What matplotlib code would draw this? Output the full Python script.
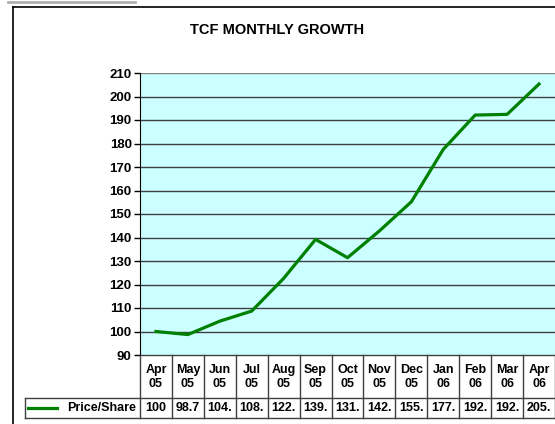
import matplotlib
matplotlib.use("Agg")
import matplotlib.pyplot as plt
from matplotlib.lines import Line2D
from matplotlib.transforms import blended_transform_factory

plt.rcParams['font.family'] = ['Liberation Sans', 'DejaVu Sans']

months = ["Apr\n05", "May\n05", "Jun\n05", "Jul\n05", "Aug\n05", "Sep\n05", "Oct\n05",
          "Nov\n05", "Dec\n05", "Jan\n06", "Feb\n06", "Mar\n06", "Apr\n06"]
price = [100.0, 98.7, 104.4, 108.7, 122.6, 139.2, 131.4, 142.8, 155.2, 177.5, 192.1, 192.4, 205.3]
price_labels = ["100", "98.7", "104.", "108.", "122.", "139.", "131.", "142.", "155.",
                "177.", "192.", "192.", "205."]
series_name = "Price/Share"
title = "TCF MONTHLY GROWTH"
yticks = list(range(90, 211, 10))

W, H = 555, 424
fig = plt.figure(figsize=(W / 100, H / 100), dpi=100)
fig.patch.set_facecolor("white")

def fx(px):
    return px / W

def fy(py):
    return 1 - py / H

# outer frame and top gray line
fig.add_artist(Line2D([fx(13), fx(13)], [fy(7), fy(424)], color="black", lw=1.2))
fig.add_artist(Line2D([fx(13), fx(555)], [fy(7), fy(7)], color="black", lw=1.2))
fig.add_artist(Line2D([fx(8), fx(135)], [fy(1.5), fy(1.5)], color="#b0b0b0", lw=2))

left, right, top, bottom = 140, 555, 73, 355
ax = fig.add_axes([fx(left), fy(bottom), fx(right - left), (bottom - top) / H])
ax.set_facecolor("#ccffff")

x = list(range(len(price)))
ax.plot(x, price, color="#008000", lw=2.3, solid_joinstyle="round", zorder=3)
ax.set_xlim(-0.5, len(price) - 0.5)
ax.set_ylim(90, 210)
ax.set_yticks(yticks)
ax.set_yticklabels([str(t) for t in yticks], fontsize=9.5, fontweight="bold")
ax.tick_params(axis="y", direction="out", length=4, width=1, pad=2)
ax.set_xticks([])
for t in yticks[1:]:
    ax.axhline(t, color="#404040" if t < 210 else "#808080", lw=1, zorder=1)
for s in ["top", "right", "bottom"]:
    ax.spines[s].set_visible(False)
ax.spines["left"].set_color("black")

fig.text(fx(277), fy(30), title, ha="center", va="center", fontsize=10.5, fontweight="bold")

# data table
trans = blended_transform_factory(ax.transData, ax.transAxes)
ph = bottom - top
y_head = -(398 - bottom) / ph
y_bot = -(418 - bottom) / ph
y_head_txt = -(377 - bottom) / ph
y_val_txt = -(408 - bottom) / ph
lc = dict(color="#404040", lw=1, clip_on=False)
for i in range(len(price) + 1):
    ax.plot([i - 0.5, i - 0.5], [0, y_bot], transform=trans, **lc)
ax.plot([-0.5, len(price) - 0.5], [0, 0], transform=trans, **lc)
leg_left = (25 - left) / (right - left)
ax.plot([leg_left, 1], [y_head, y_head], transform=ax.transAxes, **lc)
ax.plot([leg_left, 1], [y_bot, y_bot], transform=ax.transAxes, **lc)
ax.plot([leg_left, leg_left], [y_head, y_bot], transform=ax.transAxes, **lc)
for i, (m, lab) in enumerate(zip(months, price_labels)):
    ax.text(i, y_head_txt, m, transform=trans, ha="center", va="center",
            fontsize=9, fontweight="bold", linespacing=1.2)
    ax.text(i, y_val_txt, lab, transform=trans, ha="center", va="center",
            fontsize=9, fontweight="bold")
lx0 = (28 - left) / (right - left)
lx1 = (57 - left) / (right - left)
ax.plot([lx0, lx1], [y_val_txt, y_val_txt], transform=ax.transAxes, color="#008000",
        lw=2.3, clip_on=False)
ax.text((136 - left) / (right - left), y_val_txt, series_name, transform=ax.transAxes,
        ha="right", va="center", fontsize=9, fontweight="bold")

fig.savefig("out.png", dpi=100)
